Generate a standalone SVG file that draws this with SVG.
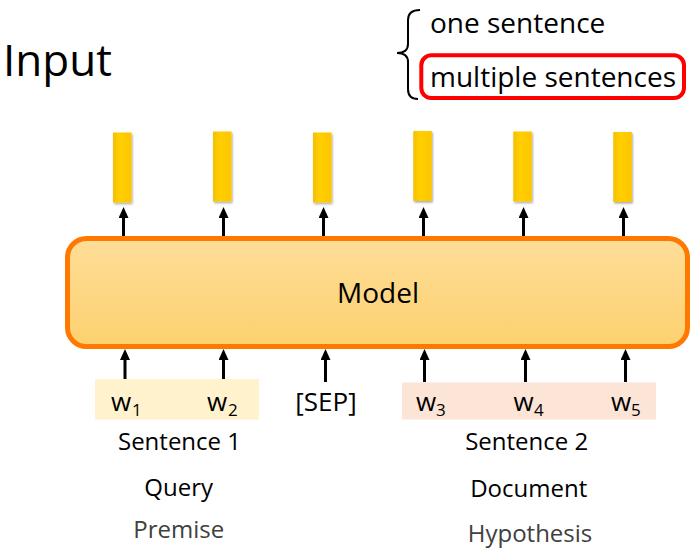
<svg xmlns="http://www.w3.org/2000/svg" width="693" height="558" viewBox="0 0 693 558">
<style>
  text { font-family: "Open Sans", "Noto Sans", "Liberation Sans", sans-serif; fill: #000; }
  .lbl { font-size: 24px; text-anchor: middle; }
  .gray { fill: #404040; }
  .tok { font-size: 26px; }
  .sub { font-size: 17px; }
  .arrow { stroke: #000; stroke-width: 3; fill: none; }
  .bar { fill: url(#barGrad); filter: url(#shadow); }
</style>
<defs>
  <linearGradient id="modelGrad" x1="0" y1="0" x2="0" y2="1">
    <stop offset="0" stop-color="#fedd98"/>
    <stop offset="1" stop-color="#fdd16f"/>
  </linearGradient>
  <linearGradient id="barGrad" x1="0" y1="0" x2="1" y2="0">
    <stop offset="0" stop-color="#f6bf00"/>
    <stop offset="0.35" stop-color="#ffcf00"/>
    <stop offset="1" stop-color="#ffc500"/>
  </linearGradient>
  <filter id="shadow" x="-50%" y="-20%" width="200%" height="140%">
    <feDropShadow dx="1" dy="1.5" stdDeviation="1" flood-color="#000" flood-opacity="0.35"/>
  </filter>
  <marker id="head" markerUnits="userSpaceOnUse" markerWidth="11" markerHeight="10" viewBox="0 0 11 10" refX="2" refY="5" orient="auto">
    <path d="M0,0 L11,5 L0,10 Z" fill="#000"/>
  </marker>
</defs>

<g id="title">
  <text x="3" y="76" font-size="44">Input</text>
</g>

<g id="options">
  <path d="M420,10 Q408,10 408,20 L408,44 Q408,53 397,53 Q408,53 408,62 L408,89 Q408,99 418,99" fill="none" stroke="#000" stroke-width="2"/>
  <text x="430" y="33" font-size="28">one sentence</text>
  <rect x="421.3" y="55.3" width="262.7" height="42.7" rx="10" fill="none" stroke="#ff0000" stroke-width="4"/>
  <text x="430" y="87" font-size="28">multiple sentences</text>
</g>

<g id="outputs">
  <rect class="bar" x="113" y="132.5" width="18.5" height="70"/>
  <rect class="bar" x="213" y="131.5" width="18.5" height="70"/>
  <rect class="bar" x="313" y="132.5" width="18.5" height="70"/>
  <rect class="bar" x="413.3" y="131" width="18.5" height="70"/>
  <rect class="bar" x="513.3" y="131.5" width="18.5" height="70"/>
  <rect class="bar" x="613.3" y="132" width="18.5" height="70"/>
</g>

<g id="model">
  <rect x="67.5" y="238.5" width="620" height="108" rx="19" fill="url(#modelGrad)" stroke="#ff7800" stroke-width="5"/>
  <text x="378" y="303" font-size="28" text-anchor="middle">Model</text>
</g>

<g id="connectors">
  <line class="arrow" x1="123.5" y1="236" x2="123.5" y2="216" marker-end="url(#head)"/>
  <line class="arrow" x1="223.5" y1="236" x2="223.5" y2="216" marker-end="url(#head)"/>
  <line class="arrow" x1="323.5" y1="236" x2="323.5" y2="216" marker-end="url(#head)"/>
  <line class="arrow" x1="423.5" y1="236" x2="423.5" y2="216" marker-end="url(#head)"/>
  <line class="arrow" x1="523.5" y1="236" x2="523.5" y2="216" marker-end="url(#head)"/>
  <line class="arrow" x1="623.5" y1="236" x2="623.5" y2="216" marker-end="url(#head)"/>
  <line class="arrow" x1="125" y1="382" x2="125" y2="358" marker-end="url(#head)"/>
  <line class="arrow" x1="223.5" y1="382" x2="223.5" y2="358" marker-end="url(#head)"/>
  <line class="arrow" x1="325.5" y1="382" x2="325.5" y2="358" marker-end="url(#head)"/>
  <line class="arrow" x1="424.5" y1="382" x2="424.5" y2="358" marker-end="url(#head)"/>
  <line class="arrow" x1="525.5" y1="382" x2="525.5" y2="358" marker-end="url(#head)"/>
  <line class="arrow" x1="625.5" y1="382" x2="625.5" y2="358" marker-end="url(#head)"/>
</g>

<g id="sentence1">
  <rect x="95" y="379" width="164" height="40.5" fill="#fff2cc"/>
  <text class="tok" x="111" y="411">w</text><text class="sub" x="132" y="416">1</text>
  <text class="tok" x="207" y="411">w</text><text class="sub" x="228" y="416">2</text>
  <text class="lbl" x="179.5" y="450">Sentence 1</text>
  <text class="lbl" x="178.7" y="496">Query</text>
  <text class="lbl gray" x="178.7" y="537.5">Premise</text>
</g>

<g id="sep">
  <text x="326" y="411" font-size="26" text-anchor="middle">[SEP]</text>
</g>

<g id="sentence2">
  <rect x="402" y="382.5" width="254" height="37" fill="#fce4d6"/>
  <text class="tok" x="416" y="411">w</text><text class="sub" x="436" y="416">3</text>
  <text class="tok" x="513.5" y="411">w</text><text class="sub" x="534" y="416">4</text>
  <text class="tok" x="611" y="411">w</text><text class="sub" x="631" y="416">5</text>
  <text class="lbl" x="526.7" y="450">Sentence 2</text>
  <text class="lbl" x="528.7" y="497">Document</text>
  <text class="lbl gray" x="530" y="542">Hypothesis</text>
</g>
</svg>
